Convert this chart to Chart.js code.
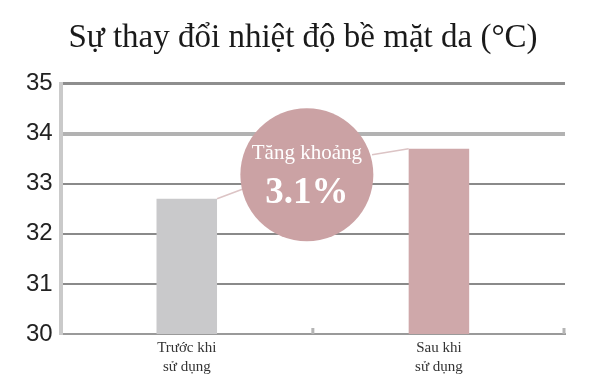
<!DOCTYPE html>
<html>
<head>
<meta charset="utf-8">
<script src="https://cdn.jsdelivr.net/npm/chart.js@4/dist/chart.umd.min.js"></script>
<style>
  html, body { margin: 0; padding: 0; background: #fff; }
  #wrap { width: 600px; height: 377px; }
</style>
</head>
<body>
<div id="wrap"><canvas id="chart"></canvas></div>
<script>
const titulo = 'Sự thay đổi nhiệt độ bề mặt da (°C)';
const categorias = [['Trước khi', 'sử dụng'], ['Sau khi', 'sử dụng']];
const valores = [32.7, 33.7];
const colores = ['#c9c9cb', '#cfa8aa'];
const ticksY = [30, 31, 32, 33, 34, 35];
const textoCirculo = 'Tăng khoảng';

// porcentaje de aumento calculado a partir de los datos
const aumento = ((valores[1] - valores[0]) / valores[0] * 100).toFixed(1) + '%';

const circuloPlugin = {
    id: 'circulo',
    afterDatasetsDraw(chart) {
        const ctx = chart.ctx;
        const barras = chart.getDatasetMeta(0).data;
        const x = chart.scales.x;
        const y = chart.scales.y;
        const area = chart.chartArea;
        const medio = (x.getPixelForValue(0) + x.getPixelForValue(1)) / 2;
        const cx = medio - 6;
        const cy = y.getPixelForValue(33.18);
        const r = 66.5;

        const b1 = barras[0], b2 = barras[1];
        const p1 = { x: b1.x + b1.width / 2, y: b1.y };
        const p2 = { x: b2.x - b2.width / 2, y: b2.y };

        ctx.save();
        // marcas pequeñas entre categorias
        ctx.strokeStyle = '#b5b5b5';
        ctx.lineWidth = 3;
        ctx.beginPath();
        ctx.moveTo(medio, area.bottom);
        ctx.lineTo(medio, area.bottom - 6);
        ctx.moveTo(area.right - 1, area.bottom);
        ctx.lineTo(area.right - 1, area.bottom - 6);
        ctx.stroke();

        ctx.strokeStyle = '#dcc4c5';
        ctx.lineWidth = 1.5;
        ctx.beginPath();
        ctx.moveTo(p1.x, p1.y);
        ctx.lineTo(cx - r * 0.95, cy + 14);
        ctx.moveTo(cx + r * 0.98, cy - 20);
        ctx.lineTo(p2.x, p2.y);
        ctx.stroke();

        ctx.fillStyle = '#cba2a4';
        ctx.beginPath();
        ctx.arc(cx, cy, r, 0, Math.PI * 2);
        ctx.fill();

        ctx.fillStyle = '#ffffff';
        ctx.textAlign = 'center';
        ctx.textBaseline = 'middle';
        ctx.font = '21px "Liberation Serif", serif';
        ctx.fillText(textoCirculo, cx, cy - 21);
        ctx.font = 'bold 37px "Liberation Serif", serif';
        ctx.fillText(aumento, cx, cy + 19);
        ctx.restore();
    }
};

const ctx = document.getElementById('chart').getContext('2d');
new Chart(ctx, {
    type: 'bar',
    data: {
        labels: categorias,
        datasets: [{
            data: valores,
            backgroundColor: colores,
            borderWidth: 0,
            barPercentage: 0.24,
            categoryPercentage: 1
        }]
    },
    options: {
        responsive: true,
        maintainAspectRatio: false,
        animation: false,
        layout: {
            padding: { left: 18, right: 12, top: 0, bottom: -4 }
        },
        scales: {
            x: {
                grid: { display: false, drawTicks: false },
                border: { color: '#9a9a9a', width: 2 },
                ticks: {
                    color: '#333',
                    padding: 4,
                    font: { family: '"Liberation Serif", serif', size: 15, lineHeight: 1.3 }
                }
            },
            y: {
                min: 30,
                max: 35,
                afterBuildTicks(scale) {
                    scale.ticks = ticksY.map(v => ({ value: v }));
                },
                border: { color: '#cacaca', width: 4 },
                grid: {
                    drawTicks: false,
                    color: c => c.tick.value === 35 ? '#8e8e8e' : (c.tick.value === 34 ? '#b2b2b2' : '#8a8a8a'),
                    lineWidth: c => c.tick.value === 35 ? 3 : (c.tick.value === 34 ? 4 : 2)
                },
                ticks: {
                    color: '#222',
                    padding: 8,
                    font: { family: '"Liberation Sans", sans-serif', size: 24 }
                }
            },
            // eje vacio a la derecha, solo deja el margen y centra el titulo
            derecha: {
                position: 'right',
                min: 30,
                max: 35,
                grid: { display: false, drawTicks: false },
                border: { display: false },
                ticks: { display: false },
                afterFit(scale) {
                    scale.width = 23;
                }
            }
        },
        plugins: {
            legend: { display: false },
            tooltip: { enabled: false },
            title: {
                display: true,
                text: titulo,
                color: '#1a1a1a',
                padding: { top: 19, bottom: 25 },
                font: { family: '"Liberation Serif", serif', size: 33, weight: 'normal' }
            }
        }
    },
    plugins: [circuloPlugin]
});
</script>
</body>
</html>
